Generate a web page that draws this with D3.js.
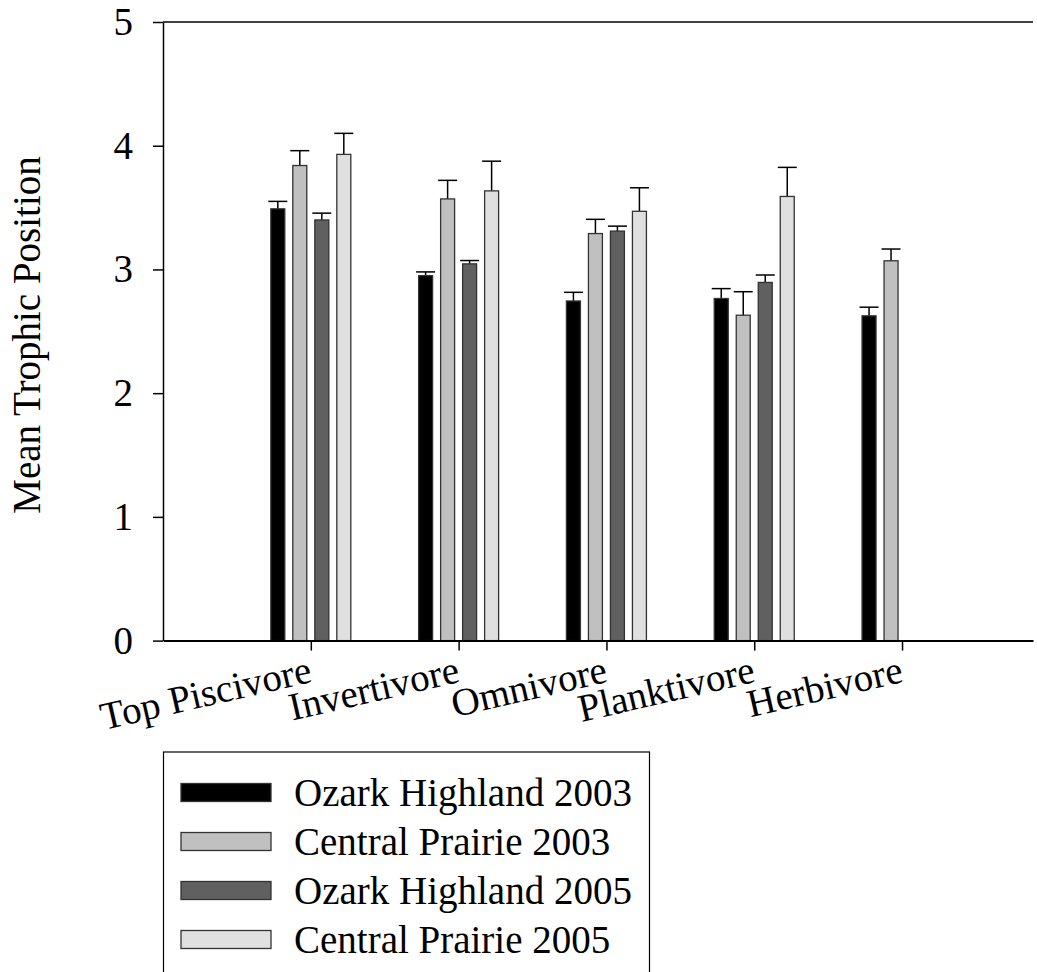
<!DOCTYPE html>
<html>
<head>
<meta charset="utf-8">
<script src="https://cdn.jsdelivr.net/npm/d3@7"></script>
<style>
  body { margin: 0; background: #fff; }
  text { font-family: "Liberation Serif", "Times New Roman", serif; }
</style>
</head>
<body>
<div id="chart"></div>
<script>
var categories = ['Top Piscivore', 'Invertivore', 'Omnivore', 'Planktivore', 'Herbivore'];
var seriesNames = ['Ozark Highland 2003', 'Central Prairie 2003', 'Ozark Highland 2005', 'Central Prairie 2005'];
var seriesColors = ['#000000', '#c0c0c0', '#606060', '#e0e0e0'];

// mean trophic position and SE, per series (null = no data)
var oh2003 = [3.49, 2.95, 2.745, 2.765, 2.625];
var oh2003Err = [0.06, 0.03, 0.07, 0.08, 0.07];
var cp2003 = [3.84, 3.57, 3.29, 2.63, 3.07];
var cp2003Err = [0.12, 0.15, 0.115, 0.19, 0.095];
var oh2005 = [3.40, 3.045, 3.31, 2.895, null];
var oh2005Err = [0.055, 0.027, 0.04, 0.06, null];
var cp2005 = [3.93, 3.635, 3.47, 3.59, null];
var cp2005Err = [0.17, 0.24, 0.19, 0.235, null];

var yTicks = [0, 1, 2, 3, 4, 5];

var values = [oh2003, cp2003, oh2005, cp2005];
var errors = [oh2003Err, cp2003Err, oh2005Err, cp2005Err];

var width = 1037, height = 972;
var fontSize = 39;

var svg = d3.select('#chart')
  .append('svg')
  .attr('width', width)
  .attr('height', height);

var x = d3.scaleLinear().domain([0, 5.886]).range([163, 1033]);
var y = d3.scaleLinear().domain([0, 5]).range([640.6, 22]);
var inner = d3.scaleBand()
  .domain(seriesNames)
  .range([-44, 44])
  .paddingInner(0.364)
  .paddingOuter(0.182);

// flatten into bar records
var bars = [];
values.forEach(function (vals, s) {
  vals.forEach(function (v, i) {
    if (v === null) return;
    bars.push({cat: i + 1, series: s, value: v, err: errors[s][i]});
  });
});

function barMid(d) {
  return x(d.cat) + inner(seriesNames[d.series]) + inner.bandwidth() / 2;
}

// error bars (drawn under bars so the bar outline covers the join)
var eb = svg.append('g').attr('stroke', '#000').attr('stroke-width', 1.5);
eb.selectAll('line.stem')
  .data(bars)
  .enter()
  .append('line')
  .attr('class', 'stem')
  .attr('x1', barMid)
  .attr('x2', barMid)
  .attr('y1', function (d) {return y(d.value);})
  .attr('y2', function (d) {return y(d.value + d.err);});
eb.selectAll('line.cap')
  .data(bars)
  .enter()
  .append('line')
  .attr('class', 'cap')
  .attr('x1', function (d) {return barMid(d) - 9.5;})
  .attr('x2', function (d) {return barMid(d) + 9.5;})
  .attr('y1', function (d) {return y(d.value + d.err);})
  .attr('y2', function (d) {return y(d.value + d.err);});

// bars
svg.append('g')
  .selectAll('rect')
  .data(bars)
  .enter()
  .append('rect')
  .attr('x', function (d) {return x(d.cat) + inner(seriesNames[d.series]);})
  .attr('width', inner.bandwidth())
  .attr('y', function (d) {return y(d.value);})
  .attr('height', function (d) {return y(0) - y(d.value);})
  .attr('fill', function (d) {return seriesColors[d.series];})
  .attr('stroke', '#333')
  .attr('stroke-width', 1.3);

// y axis
var yAxis = svg.append('g')
  .attr('transform', 'translate(' + x(0) + ',0)')
  .call(d3.axisLeft(y).tickValues(yTicks).tickFormat(d3.format('d')).tickSize(10).tickSizeOuter(0).tickPadding(20));
yAxis.selectAll('text').attr('font-size', fontSize).attr('fill', '#000');
yAxis.selectAll('line, path').attr('stroke', '#000').attr('stroke-width', 1.5);

// top frame line
svg.append('line')
  .attr('x1', x(0)).attr('x2', 1033)
  .attr('y1', y(5)).attr('y2', y(5))
  .attr('stroke', '#000').attr('stroke-width', 1.5);

// x axis
var xAxis = svg.append('g')
  .attr('transform', 'translate(0,' + y(0) + ')')
  .call(d3.axisBottom(x).tickValues([1, 2, 3, 4, 5])
    .tickFormat(function (i) {return categories[i - 1];})
    .tickSize(10).tickSizeOuter(0));
xAxis.select('.domain').attr('stroke', '#000').attr('stroke-width', 2);
xAxis.selectAll('line').attr('stroke', '#000').attr('stroke-width', 1.5);
xAxis.selectAll('text')
  .attr('font-size', fontSize)
  .attr('fill', '#000')
  .attr('text-anchor', 'end')
  .attr('dy', null)
  .attr('y', 0)
  .attr('transform', 'translate(2,41) rotate(-13)');

// y axis title
svg.append('text')
  .attr('transform', 'translate(40,335) rotate(-90)')
  .attr('text-anchor', 'middle')
  .attr('font-size', fontSize)
  .text('Mean Trophic Position');

// legend
var legend = svg.append('g');
legend.append('rect')
  .attr('x', 163.5).attr('y', 752)
  .attr('width', 486).attr('height', 240)
  .attr('fill', '#fff').attr('stroke', '#000').attr('stroke-width', 1.2);
var item = legend.selectAll('g.item')
  .data(seriesNames)
  .enter()
  .append('g')
  .attr('class', 'item')
  .attr('transform', function (d, i) {return 'translate(0,' + (792.5 + i * 49) + ')';});
item.append('rect')
  .attr('x', 181).attr('y', -9)
  .attr('width', 90).attr('height', 18)
  .attr('fill', function (d, i) {return seriesColors[i];})
  .attr('stroke', '#333').attr('stroke-width', 1.3);
item.append('text')
  .attr('x', 294).attr('y', 13)
  .attr('font-size', fontSize)
  .text(function (d) {return d;});
</script>
</body>
</html>
